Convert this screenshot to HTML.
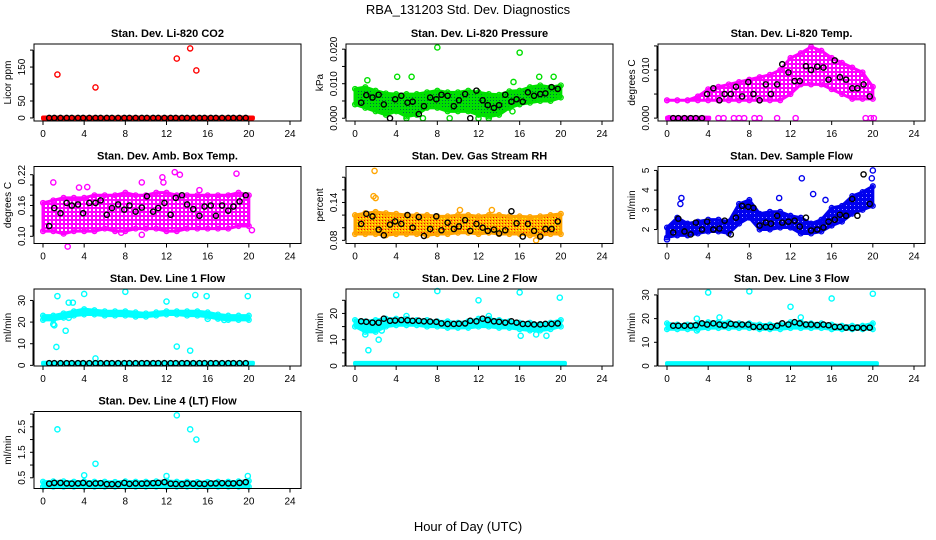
<!DOCTYPE html>
<html><head><meta charset="utf-8"><style>
html,body{margin:0;padding:0;background:#fff;}
svg{display:block;font-family:"Liberation Sans",Arial,sans-serif;}
</style></head>
<body>
<svg id="chart" width="936" height="540" viewBox="0 0 936 540">
<defs>
<pattern id="pGreen" width="3" height="3" patternUnits="userSpaceOnUse"><rect width="3" height="3" fill="#00e000"/><rect x="1" y="1" width="1" height="1" fill="#064"/></pattern>
<pattern id="pOrange" width="3" height="3" patternUnits="userSpaceOnUse"><rect width="3" height="3" fill="#ffb000"/><rect x="1" y="1" width="1" height="1" fill="#e00"/><rect x="0" y="2" width="1" height="1" fill="#ff0"/></pattern>
<pattern id="pMag" width="4" height="4" patternUnits="userSpaceOnUse"><rect width="4" height="4" fill="#ff00ff"/><rect x="1" y="1" width="2" height="2" fill="#fff"/></pattern>
<pattern id="pBlue" width="4" height="4" patternUnits="userSpaceOnUse"><rect width="4" height="4" fill="#0000ee"/><rect x="2" y="1" width="1" height="1" fill="#99f"/></pattern>
<pattern id="pCyan" width="4" height="4" patternUnits="userSpaceOnUse"><rect width="4" height="4" fill="#00ffff"/></pattern>
</defs>
<text x="468" y="14" text-anchor="middle" font-size="13">RBA_131203  Std. Dev. Diagnostics</text>
<text x="468" y="531" text-anchor="middle" font-size="13">Hour of Day (UTC)</text>
</svg>
<script>
// ---------- data ----------
const hours = [0,1,2,3,4,5,6,7,8,9,10,11,12,13,14,15,16,17,18,19,20];
const blackX = [0.6,1.1,1.7,2.3,2.8,3.4,3.9,4.5,5.1,5.6,6.2,6.7,7.3,7.9,8.4,9.0,9.6,10.1,10.7,11.2,11.8,12.4,12.9,13.5,14.0,14.6,15.2,15.7,16.3,16.8,17.4,18.0,18.5,19.1,19.7];
const xTicks = [0,4,8,12,16,20,24];

// Panel 1: CO2
const co2Black = [0,0,0,0,0,0,0,0,0,0,0,0,0,0,0,0,0,0,0,0,0,0,0,0,0,0,0,0,0,0,0,0,0,0,0];
const co2OutX = [1.4,5.1,13.0,14.3,14.9];
const co2OutY = [128,90,175,205,140];
const co2Ticks = [0,50,100,150,200];
const co2Labels = ["0","50","","150",""];

// Panel 2: pressure
const presLo = [0.004,0.003,0.002,0.001,0.002,0.0005,0.001,0.003,0.003,0.002,0.002,0.002,0.001,0.0005,0.001,0.003,0.004,0.0045,0.005,0.005,0.006];
const presHi = [0.0085,0.009,0.008,0.0072,0.007,0.007,0.007,0.0075,0.008,0.0075,0.0075,0.008,0.0075,0.007,0.0068,0.0078,0.008,0.009,0.0095,0.009,0.0095];
const presBlack = [0.0045,0.0067,0.006,0.0068,0.004,0,0.0055,0.0065,0.0045,0.0048,0.0012,0.0035,0.006,0.0055,0.0068,0.0065,0.0035,0.0052,0.007,0,0.008,0.0052,0.0038,0.003,0.0038,0.0068,0.0048,0.0055,0.0048,0.0075,0.0065,0.007,0.0072,0.009,0.0085];
const presOutX = [8.0,16.0,4.1,5.5,17.9,19.3,1.2,15.4,5.0,6.6,9.2,12.0,13.0,15.3];
const presOutY = [0.0205,0.019,0.012,0.012,0.012,0.012,0.011,0.0105,0,0,0,0,0,0.002];
const presTicks = [0,0.005,0.01,0.015,0.02];
const presLabels = ["0.000","","0.010","","0.020"];

// Panel 3: Li-820 temp
const tempLo = [0.0037,0.0037,0.0037,0.0037,0.0037,0.0037,0.0037,0.0037,0.0037,0.0037,0.0037,0.0037,0.005,0.007,0.007,0.007,0.006,0.005,0.004,0.004,0.004];
const tempHi = [0.0037,0.0037,0.0037,0.0045,0.006,0.0065,0.007,0.0075,0.008,0.0085,0.009,0.01,0.0125,0.0135,0.0148,0.014,0.0125,0.0115,0.0105,0.0095,0.0065];
const tempBlack = [0,0,0,0,0,0,0.005,0.0062,0.0037,0.005,0.005,0.0065,0.0045,0.0075,0.005,0.0037,0.007,0.005,0.007,0.0112,0.0095,0.0077,0.0077,0.0108,0.01,0.0107,0.0105,0.008,0.012,0.0085,0.008,0.0062,0.0062,0.007,0.0045];
const tempOutX = [5.0,5.5,6.5,7.0,7.5,8.5,9.0,10.7,12.5,19.3,19.8,20.1,0.2];
const tempOutY = [0,0,0,0,0,0,0,0,0,0,0,0,0];
const tempTicks = [0,0.005,0.01,0.015];
const tempLabels = ["0.000","","0.010",""];

// Panel 4: ambient box temp
const ambLo = [0.11,0.11,0.105,0.11,0.11,0.11,0.115,0.11,0.11,0.115,0.115,0.115,0.11,0.11,0.115,0.115,0.115,0.115,0.115,0.12,0.12];
const ambHi = [0.165,0.17,0.175,0.175,0.175,0.18,0.18,0.18,0.185,0.18,0.18,0.185,0.185,0.18,0.18,0.18,0.18,0.18,0.18,0.185,0.18];
const ambBlack = [0.12,0.155,0.145,0.165,0.16,0.162,0.145,0.165,0.165,0.17,0.142,0.155,0.162,0.152,0.16,0.148,0.156,0.178,0.148,0.155,0.165,0.142,0.175,0.18,0.162,0.153,0.14,0.158,0.16,0.14,0.16,0.15,0.158,0.168,0.18];
const ambOutX = [1.0,3.5,4.3,9.6,2.4,12.8,13.3,11.6,18.8,9.6,7.6,20.3,15.2,11.7];
const ambOutY = [0.205,0.195,0.196,0.205,0.08,0.225,0.22,0.215,0.222,0.103,0.107,0.112,0.19,0.205];
const ambTicks = [0.10,0.12,0.14,0.16,0.18,0.20,0.22];
const ambLabels = ["0.10","","","0.16","","","0.22"];

// Panel 5: gas stream RH
const rhLo = [0.09,0.09,0.09,0.088,0.09,0.09,0.09,0.088,0.09,0.09,0.092,0.092,0.09,0.092,0.09,0.09,0.09,0.088,0.088,0.09,0.09];
const rhHi = [0.12,0.123,0.125,0.123,0.122,0.12,0.12,0.12,0.118,0.118,0.12,0.12,0.118,0.12,0.12,0.118,0.118,0.117,0.118,0.12,0.122];
const rhBlack = [0.106,0.122,0.118,0.097,0.088,0.105,0.11,0.106,0.12,0.1,0.117,0.087,0.098,0.118,0.096,0.108,0.098,0.102,0.112,0.095,0.106,0.1,0.095,0.097,0.091,0.096,0.126,0.107,0.086,0.106,0.095,0.086,0.098,0.098,0.11];
const rhOutX = [1.9,1.8,2.0,10.2,13.3,17.6];
const rhOutY = [0.19,0.15,0.147,0.128,0.128,0.08];
const rhTicks = [0.08,0.10,0.12,0.14,0.16,0.18];
const rhLabels = ["0.08","","","0.14","",""];

// Panel 6: sample flow
const sfLo = [1.6,1.7,1.7,1.8,1.9,1.9,1.8,2.3,2.6,2.0,2.0,2.1,2.1,1.8,1.8,1.9,2.2,2.4,2.8,3.0,3.2];
const sfHi = [2.1,2.6,2.3,2.4,2.5,2.5,2.4,3.3,3.5,2.8,2.9,2.9,2.7,2.6,2.3,2.5,3.1,3.2,3.7,3.9,4.2];
const sfBlack = [1.85,2.55,1.9,1.75,2.35,2.0,2.4,2.0,2.05,2.45,1.75,2.6,3.2,3.15,3.1,2.2,2.35,2.3,2.7,2.35,2.4,2.45,2.15,2.6,1.95,2.0,2.1,2.4,2.5,2.75,2.7,3.55,2.7,4.8,3.3];
const sfOutX = [1.4,1.3,13.1,14.2,20.0,10.9,0.0,19.9,15.4];
const sfOutY = [3.6,3.3,4.6,3.8,5.0,3.6,1.5,4.6,3.5];
const sfTicks = [2,3,4,5];
const sfLabels = ["2","3","4","5"];

// Panel 7: line 1 flow
const l1Lo = [21,21,22,23,23.5,23.5,23,23,23,22.5,22.5,23,23.5,23.5,23,23,22.5,21.5,21,21,21];
const l1Hi = [23,23,24,25,26,25.5,25,25,25,24.5,24,24.5,25,25,25,25,24.5,23.5,23,23,23];
const l1Black = [1,1,1,1,1,1,1,1,1,1,1,1,1,1,1,1,1,1,1,1,1,1,1,1,1,1,1,1,1,1,1,1,1,1,1];
const l1OutX = [1.4,4.0,8.0,12.0,14.8,15.9,19.9,1.0,1.3,2.2,2.5,2.9,13.0,14.3,5.1,1.1,2.5,16.0,17.6];
const l1OutY = [32,33,34,29.5,32.5,32,32,19,8.5,16,29,29,8.7,6.8,3.2,18.5,22,21.5,21];
const l1Ticks = [0,10,20,30];
const l1Labels = ["0","10","20","30"];

// Panel 8: line 2 flow
const l2Lo = [15,13,13,15,15.5,15.5,15.5,15,15,14.5,14.5,14.5,15,15,14.5,14.5,14,13.5,13.5,14,15];
const l2Hi = [17.5,17,17.5,18,18,18,17.5,17.5,17,17,16.5,17,18,18,17.5,17,16.5,16.5,16,16.5,17.5];
const l2Black = [17,16.8,16.5,16.5,18,17.2,17.3,17.5,17.4,17.2,17.2,17,16.9,16.8,16.2,16,16,16.1,16.2,17.2,17,18,17.5,17,16.8,16.5,17,16.5,16,16,15.8,15.8,16,16,16.2];
const l2OutX = [4.0,8.0,12.0,16.0,19.9,1.3,2.3,2.6,1.0,16.1,17.6,18.6,5.0,13.0];
const l2OutY = [27,28.5,25,28,26,6,10,13.5,12,11.5,12,11.5,19,19];
const l2Ticks = [0,5,10,15,20,25];
const l2Labels = ["0","","10","","20",""];

// Panel 9: line 3 flow
const l3Lo = [15.5,15.5,15.5,15.5,16,16,16,16,16,15.5,15.5,15.5,16,16,16,16,15.5,15.5,15.5,15.5,15.5];
const l3Hi = [18,17.5,17.5,18,18.5,18.5,18.5,18,18,17.5,17.5,17.5,18.5,18.5,18,18,17.5,17,17,17,18];
const l3Black = [17,17,17,17,17.2,18,17.5,18,17.5,17.2,17.8,17.5,17.5,17.5,16.5,16.5,16.5,16.5,17,18,17.5,18.5,18,17.5,17.5,17.3,17.5,17.2,16.5,16.5,16.2,16,16.2,16,16.2];
const l3OutX = [4.0,8.0,12.0,16.0,20.0,2.9,5.1,13.0,2.9];
const l3OutY = [31,31.5,25,28.5,30.5,20,20.5,20.5,15];
const l3Ticks = [0,10,20,30];
const l3Labels = ["0","10","20","30"];

// Panel 10: line 4 flow
const l4Lo = [0.15,0.15,0.15,0.15,0.15,0.15,0.15,0.15,0.15,0.15,0.15,0.15,0.15,0.15,0.15,0.15,0.15,0.15,0.15,0.15,0.15];
const l4Hi = [0.35,0.36,0.36,0.35,0.36,0.35,0.35,0.34,0.36,0.35,0.35,0.36,0.38,0.35,0.35,0.34,0.34,0.35,0.35,0.36,0.38];
const l4Black = [0.27,0.3,0.3,0.28,0.27,0.28,0.3,0.27,0.28,0.29,0.25,0.25,0.25,0.3,0.26,0.28,0.27,0.28,0.29,0.3,0.33,0.27,0.26,0.25,0.28,0.27,0.27,0.26,0.28,0.28,0.29,0.28,0.28,0.3,0.33];
const l4OutX = [1.4,5.1,13.0,14.3,14.9,4.0,12.0,19.9];
const l4OutY = [2.4,1.05,2.95,2.4,2.0,0.6,0.57,0.57];
const l4Ticks = [0.5,1.0,1.5,2.0,2.5,3.0];
const l4Labels = ["0.5","","1.5","","2.5",""];

// ---------- drawing ----------
const NS = "http://www.w3.org/2000/svg";
const svg = document.getElementById("chart");
function mk(tag, attrs, parent){
  const e = document.createElementNS(NS, tag);
  for (const k in attrs) e.setAttribute(k, attrs[k]);
  (parent||svg).appendChild(e);
  return e;
}
const colLeft = [34, 346, 658];
const rowTop = [44, 166.5, 289, 411.5];
const BW = 267, BH = 77;

function panel(opts){
  const L = colLeft[opts.col], T = rowTop[opts.row], B = T + BH;
  const g = mk("g", {});
  
  
  const sx = v => L + 9 + v * (247 / 24);
  const sy = v => B - (v - opts.ylo) / (opts.yhi - opts.ylo) * BH;
  const t = mk("text", {x: L + BW/2, y: T - 7, "text-anchor": "middle", "font-size": "11", "font-weight": "bold"}, g);
  t.textContent = opts.title;
  
  
  if (opts.lo){
    let pts = [];
    hours.forEach((h,i)=>pts.push(sx(h)+","+sy(opts.hi[i])));
    for (let i = hours.length-1; i >= 0; i--) pts.push(sx(hours[i])+","+sy(opts.lo[i]));
    const pg = mk("polygon", {points: pts.join(" "), fill: "url(#"+opts.pat+")", stroke: opts.color, "stroke-width": "3", "stroke-linejoin": "round"}, g);
    
    
    hours.forEach((h,i)=>{
      [opts.lo[i], opts.hi[i]].forEach(v=>{
        const c = mk("circle", {cx: sx(h), cy: sy(v), r: 2.4, fill: "none", stroke: opts.color, "stroke-width": 1.3}, g);
        
        
      });
    });
  }
  if (opts.zeroRow !== undefined){
    const endX = opts.zeroEnd !== undefined ? opts.zeroEnd : 20.4;
    const zr = mk("rect", {x: sx(0)-2, y: sy(opts.zeroRow)-2.5, width: sx(endX)-sx(0)+4, height: 5, fill: opts.color, rx: 2}, g);
    
    
  }
  opts.outX.forEach((x,i)=>{
    const c = mk("circle", {cx: sx(x), cy: sy(opts.outY[i]), r: 2.6, fill: "none", stroke: opts.color, "stroke-width": 1.4}, g);
    
    
  });
  blackX.forEach((x,i)=>{
    const c = mk("circle", {cx: sx(x), cy: sy(opts.black[i]), r: 2.6, fill: "none", stroke: "#000", "stroke-width": 1.4}, g);
    
    
  });
  const bx = mk("rect", {x: L, y: T, width: BW, height: BH, fill: "none", stroke: "#000", "stroke-width": 1}, g);
  
  
  xTicks.forEach(v=>{
    const x = sx(v);
    mk("line", {x1: x, y1: B, x2: x, y2: B+4, stroke: "#000"}, g);
    const lt = mk("text", {x: x, y: B+16, "text-anchor": "middle", "font-size": "10"}, g);
    lt.textContent = v;
    
    
  });
  mk("line", {x1: sx(0), y1: B, x2: sx(24), y2: B, stroke: "#000"}, g);
  const ys = opts.ticks.map(sy);
  mk("line", {x1: L-1, y1: Math.min(...ys), x2: L-1, y2: Math.max(...ys), stroke: "#000"}, g);
  opts.ticks.forEach((v,i)=>{
    const y = sy(v);
    mk("line", {x1: L-4, y1: y, x2: L-1, y2: y, stroke: "#000"}, g);
    if (opts.labels[i]){
      const lt = mk("text", {x: 0, y: 0, "text-anchor": "middle", "font-size": "10", transform: "translate("+(L-9)+","+y+") rotate(-90)"}, g);
      lt.textContent = opts.labels[i];
      
      
    }
  });
  const yt = mk("text", {x: 0, y: 0, "text-anchor": "middle", "font-size": "10", transform: "translate("+(L-23)+","+(T+BH/2)+") rotate(-90)"}, g);
  yt.textContent = opts.ytitle;
  
  
}

panel({name:"panel-co2", col:0,row:0,title:"Stan. Dev. Li-820 CO2",ytitle:"Licor ppm",ylo:-9,yhi:218,color:"#ff0000",zeroRow:0,outX:co2OutX,outY:co2OutY,black:co2Black,ticks:co2Ticks,labels:co2Labels});
panel({name:"panel-pressure", col:1,row:0,title:"Stan. Dev. Li-820 Pressure",ytitle:"kPa",ylo:-0.0008,yhi:0.0215,color:"#00e000",pat:"pGreen",lo:presLo,hi:presHi,outX:presOutX,outY:presOutY,black:presBlack,ticks:presTicks,labels:presLabels});
panel({name:"panel-li820-temp", col:2,row:0,title:"Stan. Dev. Li-820 Temp.",ytitle:"degrees C",ylo:-0.0006,yhi:0.0154,color:"#ff00ff",pat:"pMag",lo:tempLo,hi:tempHi,zeroRow:0,zeroEnd:4.1,outX:tempOutX,outY:tempOutY,black:tempBlack,ticks:tempTicks,labels:tempLabels});
panel({name:"panel-amb-box-temp", col:0,row:1,title:"Stan. Dev. Amb. Box Temp.",ytitle:"degrees C",ylo:0.086,yhi:0.236,color:"#ff00ff",pat:"pMag",lo:ambLo,hi:ambHi,outX:ambOutX,outY:ambOutY,black:ambBlack,ticks:ambTicks,labels:ambLabels});
panel({name:"panel-gas-rh", col:1,row:1,title:"Stan. Dev. Gas Stream RH",ytitle:"percent",ylo:0.075,yhi:0.197,color:"#ffa500",pat:"pOrange",lo:rhLo,hi:rhHi,outX:rhOutX,outY:rhOutY,black:rhBlack,ticks:rhTicks,labels:rhLabels});
panel({name:"panel-sample-flow", col:2,row:1,title:"Stan. Dev. Sample Flow",ytitle:"ml/min",ylo:1.29,yhi:5.2,color:"#0000ee",pat:"pBlue",lo:sfLo,hi:sfHi,outX:sfOutX,outY:sfOutY,black:sfBlack,ticks:sfTicks,labels:sfLabels});
panel({name:"panel-line1-flow", col:0,row:2,title:"Stan. Dev. Line 1 Flow",ytitle:"ml/min",ylo:-0.3,yhi:35.3,color:"#00ffff",pat:"pCyan",lo:l1Lo,hi:l1Hi,zeroRow:1,outX:l1OutX,outY:l1OutY,black:l1Black,ticks:l1Ticks,labels:l1Labels});
panel({name:"panel-line2-flow", col:1,row:2,title:"Stan. Dev. Line 2 Flow",ytitle:"ml/min",ylo:0,yhi:29.3,color:"#00ffff",pat:"pCyan",lo:l2Lo,hi:l2Hi,zeroRow:1,outX:l2OutX,outY:l2OutY,black:l2Black,ticks:l2Ticks,labels:l2Labels});
panel({name:"panel-line3-flow", col:2,row:2,title:"Stan. Dev. Line 3 Flow",ytitle:"ml/min",ylo:0,yhi:32.5,color:"#00ffff",pat:"pCyan",lo:l3Lo,hi:l3Hi,zeroRow:1,outX:l3OutX,outY:l3OutY,black:l3Black,ticks:l3Ticks,labels:l3Labels});
panel({name:"panel-line4-flow", col:0,row:3,title:"Stan. Dev. Line 4 (LT) Flow",ytitle:"ml/min",ylo:0.08,yhi:3.1,color:"#00ffff",pat:"pCyan",lo:l4Lo,hi:l4Hi,outX:l4OutX,outY:l4OutY,black:l4Black,ticks:l4Ticks,labels:l4Labels});
</script>
</body></html>
